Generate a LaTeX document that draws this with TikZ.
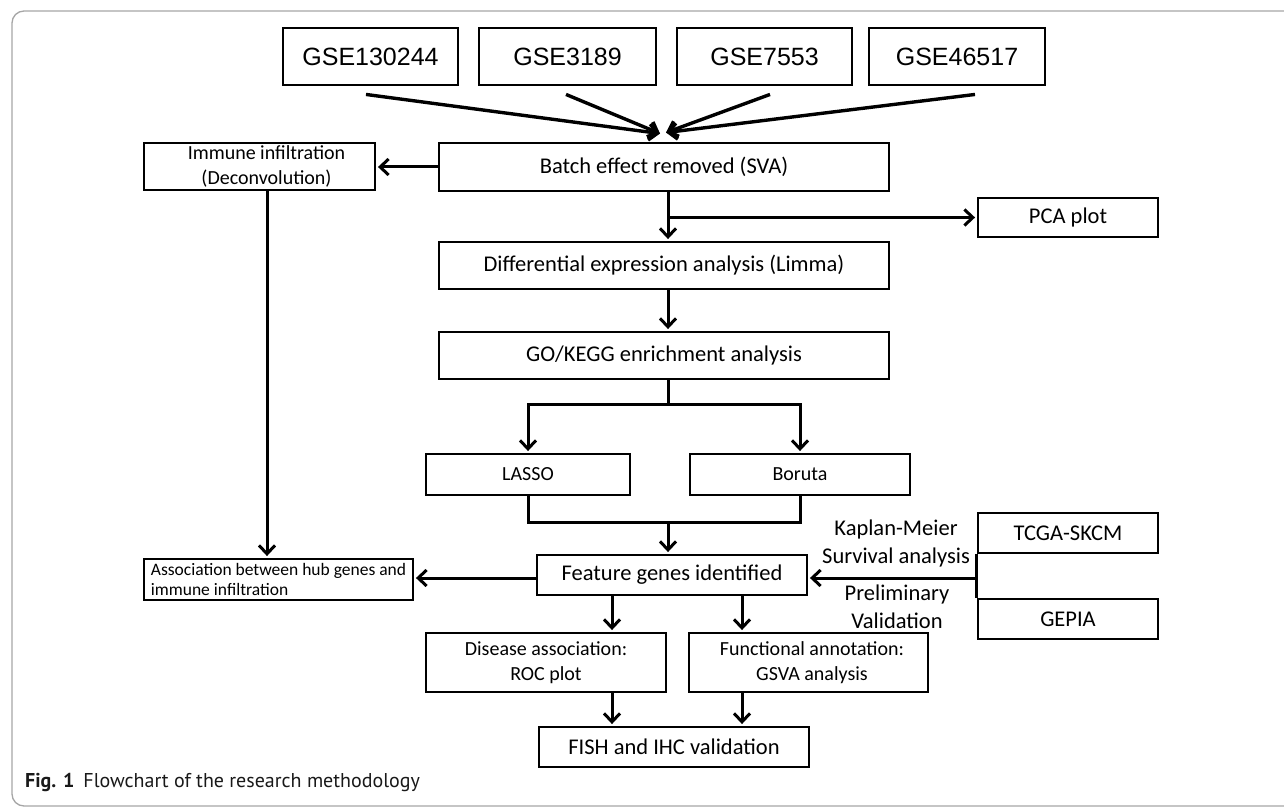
\documentclass[tikz,border=0pt]{standalone}
\usepackage{fontspec}
\setmainfont{Carlito}
\newfontfamily\arialf{Liberation Sans}
\newfontfamily\capf{PT Sans}
\usetikzlibrary{arrows.meta,calc}
\begin{document}
\begin{tikzpicture}[x=1pt,y=-1pt,
  box/.style={draw, line width=2.9pt, inner sep=0pt, align=center},
  gse/.style={box, font=\arialf\fontsize{25}{30}\selectfont},
  big/.style={box, font=\fontsize{22.5}{27}\selectfont},
  small/.style={box, font=\fontsize{20}{25}\selectfont},
  lbl/.style={inner sep=0pt, align=center, font=\fontsize{22.5}{28}\selectfont},
  conn/.style={line width=3pt},
  tip/.tip={Straight Barb[length=8.5pt,width=16pt]},
  arr/.style={line width=3pt, -tip, shorten >=1.5pt},
  garr/.style={line width=3.4pt, -tip},
  sz/.style 2 args={minimum width=#1pt, minimum height=#2pt}]
\clip (0,0) rectangle (1284,810);
\fill[white] (0,0) rectangle (1284,810);
\draw[gray!70, line width=1.3pt, rounded corners=12pt] (12,11) rectangle (1310,806);

% top data sets
\node[gse, sz={175}{57}] (g1) at (370.5,56.5) {GSE130244};
\node[gse, sz={177}{57}] (g2) at (567.5,56.5) {GSE3189};
\node[gse, sz={175}{57}] (g3) at (764.5,56.5) {GSE7553};
\node[gse, sz={176}{57}] (g4) at (957,56.5) {GSE46517};

% main column
\node[big, sz={450}{48}] (batch) at (664,167) {Batch effect removed (SVA)};
\node[small, sz={231}{47}] (immune) at (259.5,166.5) {\hspace*{14pt}Immune infiltration\\\hspace*{14pt}(Deconvolution)};
\node[big, sz={180}{39}] (pca) at (1068,217.5) {PCA plot};
\node[big, sz={450}{47}] (diff) at (664,265.5) {Differential expression analysis (Limma)};
\node[big, sz={450}{47}] (go) at (664,355.5) {GO/KEGG enrichment analysis};
\node[small, sz={204}{41}] (lasso) at (528,474.5) {LASSO};
\node[small, sz={220}{41}] (boruta) at (800,474.5) {Boruta};
\node[big, sz={270}{40}] (feature) at (672,575) {Feature genes identified};
\node[box, align=left, font=\fontsize{17.5}{20.3}\selectfont, sz={269}{41}] (assoc) at (278.5,579.5) {Association between hub genes and\\immune infiltration};
\node[big, sz={180}{40}] (tcga) at (1068,533) {TCGA-SKCM};
\node[big, sz={180}{40}] (gepia) at (1068,619) {GEPIA};
\node[small, sz={240}{59}] (disease) at (546,662.5) {Disease association:\\ROC plot};
\node[small, sz={239}{59}] (func) at (808.5,662.5) {\hspace*{7pt}Functional annotation:\\\hspace*{7pt}GSVA analysis};
\node[big, sz={270}{40}] (fish) at (674,747) {FISH and IHC validation};

\node[lbl] (km) at (896,543) {Kaplan-Meier\\Survival analysis};
\node[lbl] (pv) at (897,606.5) {Preliminary\\Validation};

% helper coordinates
\coordinate (tx) at (668,0);
\coordinate (ix) at (267,0);
\coordinate (lx) at (612,0);
\coordinate (rx) at (742,0);
\coordinate (fy) at (0,578);
\coordinate (sp) at (668,404);
\coordinate (mg) at (668,522);

% connectors
\draw[garr] ($(g1.south)+(-4.5,8)$) -- ($(batch.north)+(-4,-8)$);
\draw[garr] ($(g2.south)+(-1.5,8)$) -- ($(batch.north)+(-4,-8)$);
\draw[garr] ($(g3.south)+(5.5,8)$) -- ($(batch.north)+(2,-9)$);
\draw[garr] ($(g4.south)+(18,8)$) -- ($(batch.north)+(2,-9)$);

\draw[arr] (batch.west) -- (batch.west -| immune.east);
\draw[arr] (batch.south -| tx) -- (diff.north -| tx);
\draw[arr] (pca.west -| tx) -- (pca.west);
\draw[arr] (diff.south -| tx) -- (go.north -| tx);
\draw[conn] (go.south -| tx) -- (sp);
\draw[line width=3pt, tip-tip, shorten <=1.5pt, shorten >=1.5pt, line join=miter]
  (lasso.north) -- (lasso.north |- sp) -- (boruta.north |- sp) -- (boruta.north);
\draw[conn, line join=miter] (lasso.south) -- (lasso.south |- mg) -- (boruta.south |- mg) -- (boruta.south);
\draw[arr] (mg) -- (feature.north -| tx);

\draw[arr] (immune.south -| ix) -- (assoc.north -| ix);
\draw[arr] (feature.west |- fy) -- (assoc.east |- fy);

\draw[conn] (tcga.south west) -- (gepia.north west);
\draw[arr] (tcga.west |- fy) -- (feature.east |- fy);

\draw[arr] (feature.south -| lx) -- (disease.north -| lx);
\draw[arr] (feature.south -| rx) -- (func.north -| rx);
\draw[arr] (disease.south -| lx) -- (fish.north -| lx);
\draw[arr] (func.south -| rx) -- (fish.north -| rx);

% caption
\node[anchor=base west, inner sep=0pt, text=black!90, font=\capf\fontsize{20}{24}\selectfont] (cap) at (25,787)
  {\textbf{Fig. 1}\hspace{9pt}Flowchart of the research methodology};
\end{tikzpicture}
\end{document}
